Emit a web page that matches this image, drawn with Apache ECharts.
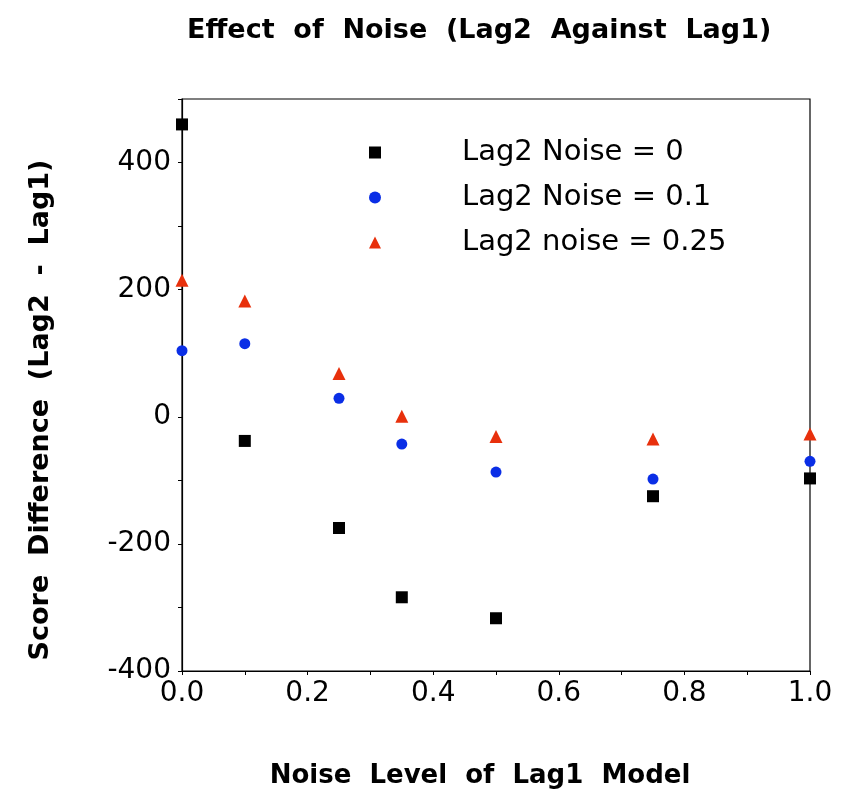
<!DOCTYPE html>
<html><head><meta charset="utf-8">
<script src="https://cdn.jsdelivr.net/npm/echarts@6/dist/echarts.min.js"></script>
<style>html,body{margin:0;padding:0;background:#fff}#c{width:851px;height:794px}</style>
</head><body><div id="c"></div>
<script>
const xValues = [0, 0.1, 0.25, 0.35, 0.5, 0.75, 1.0];
const noise0 = [460, -38, -175, -284, -317, -125, -97];
const noise01 = [104, 115, 29, -43, -87, -98, -70];
const noise025 = [215, 182, 68, 1, -31, -35, -27];
const seriesNames = ['Lag2 Noise = 0', 'Lag2 Noise = 0.1', 'Lag2 noise = 0.25'];

const pair = arr => xValues.map((x, i) => [x, arr[i]]);
const font = 'DejaVu Sans';
const chart = echarts.init(document.getElementById('c'));
chart.setOption({
  animation: false,
  title: {
    text: 'Effect  of  Noise  (Lag2  Against  Lag1)',
    left: 182, top: 12,
    textStyle: {fontFamily: font, fontSize: 27, fontWeight: 'bold', color: '#000'}
  },
  grid: {left: 182, right: 41, top: 99, bottom: 123, show: true, borderColor: '#000', borderWidth: 1.2},
  legend: {
    orient: 'vertical', left: 364, top: 133, itemGap: 16,
    itemWidth: 12, itemHeight: 12,
    textStyle: {fontFamily: font, fontSize: 29, color: '#000', padding: [0, 0, 0, 76]},
    data: seriesNames
  },
  xAxis: {
    type: 'value', min: 0, max: 1, interval: 0.1,
    name: 'Noise  Level  of  Lag1  Model', nameLocation: 'middle', nameGap: 92,
    nameTextStyle: {fontFamily: font, fontSize: 26, fontWeight: 'bold', color: '#000', padding: [0, 32, 0, 0]},
    axisLine: {onZero: false, lineStyle: {color: '#000', width: 1.2}},
    axisTick: {show: true, length: 4, lineStyle: {color: '#000'}},
    splitLine: {show: false},
    axisLabel: {
      fontFamily: font, fontSize: 28, color: '#000', margin: 9,
      formatter: v => (Math.round(v * 10) % 2 === 0 ? v.toFixed(1) : '')
    }
  },
  yAxis: {
    type: 'value', min: -400, max: 500, interval: 100,
    name: 'Score  Difference  (Lag2  -  Lag1)', nameLocation: 'middle', nameGap: 128,
    nameTextStyle: {fontFamily: font, fontSize: 27, fontWeight: 'bold', color: '#000', padding: [0, 50, 0, 0]},
    axisLine: {onZero: false, lineStyle: {color: '#000', width: 1.2}},
    axisTick: {show: true, length: 4, lineStyle: {color: '#000'}},
    splitLine: {show: false},
    axisLabel: {
      fontFamily: font, fontSize: 28, color: '#000', margin: 11,
      formatter: v => (v % 200 === 0 ? String(v) : '')
    }
  },
  series: [
    {name: seriesNames[0], type: 'scatter', symbol: 'rect', symbolSize: 12,
     itemStyle: {color: '#000', opacity: 1}, data: pair(noise0)},
    {name: seriesNames[1], type: 'scatter', symbol: 'circle', symbolSize: 11,
     itemStyle: {color: '#0a2ee6', opacity: 1}, data: pair(noise01)},
    {name: seriesNames[2], type: 'scatter', symbol: 'triangle', symbolSize: 13,
     itemStyle: {color: '#e8300c', opacity: 1}, data: pair(noise025)}
  ]
});
</script></body></html>
